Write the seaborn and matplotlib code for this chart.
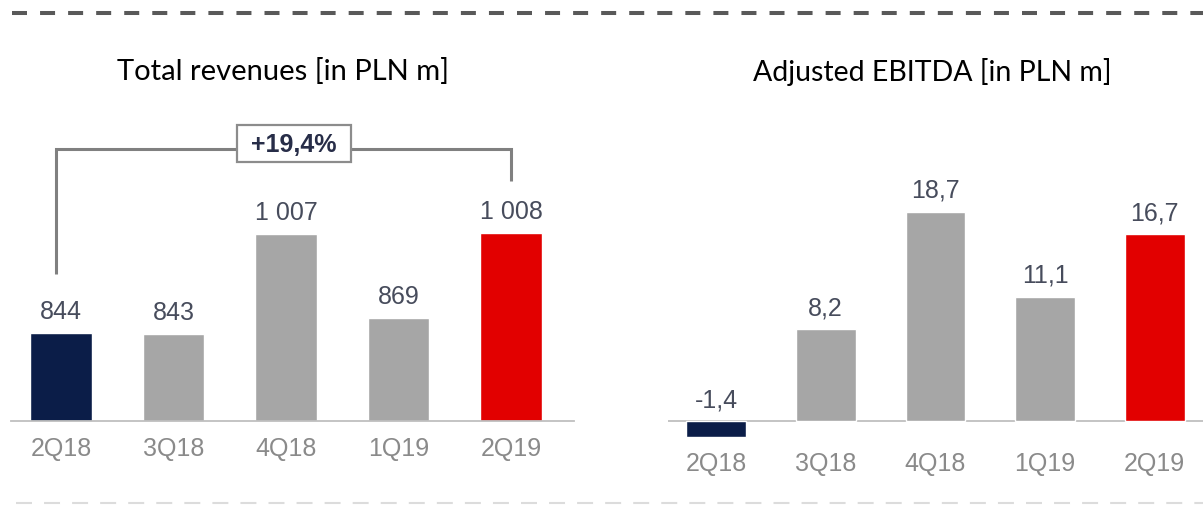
import matplotlib
matplotlib.use("Agg")
import matplotlib.pyplot as plt
import seaborn as sns
import pandas as pd
from matplotlib.lines import Line2D
from matplotlib.patches import Rectangle

# ---- data ----
quarters = ["2Q18", "3Q18", "4Q18", "1Q19", "2Q19"]
revenues = [844, 843, 1007, 869, 1008]
ebitda = [-1.4, 8.2, 18.7, 11.1, 16.7]
growth_label = "+19,4%"
title_left = "Total revenues [in PLN m]"
title_right = "Adjusted EBITDA [in PLN m]"

bar_colors = ["#0b1d48", "#a6a6a6", "#a6a6a6", "#a6a6a6", "#e20000"]
val_color = "#474c5c"
tick_color = "#8a8a8a"

sns.set_theme(style="white")
plt.rcParams["font.family"] = ["Liberation Sans", "DejaVu Sans"]
plt.rcParams["lines.scale_dashes"] = False

W, H = 1203, 506
fig = plt.figure(figsize=(W / 100, H / 100), dpi=100)
fig.patch.set_facecolor("white")


def px_rect(x0, y0, x1, y1):
    # pixel coords (top-left origin) -> figure fraction rect
    return [x0 / W, 1 - y1 / H, (x1 - x0) / W, (y1 - y0) / H]


def fmt_int(v):
    return f"{v:,}".replace(",", " ")


def fmt_dec(v):
    return f"{v:.1f}".replace(".", ",")


# ---- left panel ----
axL = fig.add_axes(px_rect(11, 110, 574, 422))
dfL = pd.DataFrame({"q": quarters, "v": revenues})
sns.barplot(data=dfL, x="q", y="v", hue="q", palette=bar_colors, legend=False,
            width=0.55, ax=axL, saturation=1)
axL.set_ylim(700, 700 + 312 / 0.61)
axL.set_xlim(-0.444, 4.56)
for i, v in enumerate(revenues):
    axL.annotate(fmt_int(v), (i, v), xytext=(0, 7), textcoords="offset points",
                 ha="center", va="bottom", fontsize=18, color=val_color)

# growth bracket
y_br = 700 + (422 - 150) / 0.61
axL.plot([-0.04, -0.04, 4.0, 4.0],
         [700 + (422 - 275) / 0.61, y_br, y_br, 700 + (422 - 182) / 0.61],
         color="#808080", lw=2.2, solid_capstyle="butt", solid_joinstyle="miter",
         clip_on=False, zorder=3)
bx0, bx1 = (237 - 61) / 112.5, (351 - 61) / 112.5
by0, by1 = 700 + (422 - 163) / 0.61, 700 + (422 - 126) / 0.61
axL.add_patch(Rectangle((bx0, by0), bx1 - bx0, by1 - by0, facecolor="white",
                        edgecolor="#8c8c8c", lw=1.6, zorder=4, clip_on=False))
axL.text((bx0 + bx1) / 2, (by0 + by1) / 2, growth_label, ha="center", va="center",
         fontsize=18, fontweight="bold", color="#272d48", zorder=5)

# ---- right panel ----
axR = fig.add_axes(px_rect(668, 110, 1203, 450))
dfR = pd.DataFrame({"q": quarters, "v": ebitda})
sns.barplot(data=dfR, x="q", y="v", hue="q", palette=bar_colors, legend=False,
            width=0.545, ax=axR, saturation=1)
axR.set_ylim(-28 / 11.2, 312 / 11.2)
axR.set_xlim(-0.438, 4.44)
for i, v in enumerate(ebitda):
    axR.annotate(fmt_dec(v), (i, max(v, 0)), xytext=(0, 7), textcoords="offset points",
                 ha="center", va="bottom", fontsize=18, color=val_color)
axR.axhline(0, color="#bfbfbf", lw=1.3, zorder=0.5)

for ax, pad in ((axL, 11), (axR, 1.5)):
    for s in ax.spines.values():
        s.set_visible(False)
    ax.set_xlabel("")
    ax.set_ylabel("")
    ax.set_yticks([])
    ax.tick_params(axis="x", length=0, pad=pad, labelsize=18, labelcolor=tick_color)
    ax.set_facecolor("none")
axL.spines["bottom"].set_visible(True)
axL.spines["bottom"].set_color("#bfbfbf")
axL.spines["bottom"].set_linewidth(1.3)

# ---- titles ----
title_font = ["Lato", "DejaVu Sans"]
fig.text(283 / W, 1 - 72 / H, title_left, ha="center", va="center",
         fontsize=21, family=title_font, color="black")
fig.text(932 / W, 1 - 72 / H, title_right, ha="center", va="center",
         fontsize=20.5, family=title_font, color="black")

# ---- dashed separators ----
fig.add_artist(Line2D([12 / W, 1], [1 - 14 / H] * 2, transform=fig.transFigure,
                      color="#595959", lw=2.9, dashes=(10.8, 9.4),
                      dash_capstyle="butt"))
fig.add_artist(Line2D([16 / W, 1], [1 - 504 / H] * 2, transform=fig.transFigure,
                      color="#dcdcdc", lw=1.5, dashes=(11.5, 8.7),
                      dash_capstyle="butt"))

fig.savefig("out.png", dpi=100, facecolor="white")
